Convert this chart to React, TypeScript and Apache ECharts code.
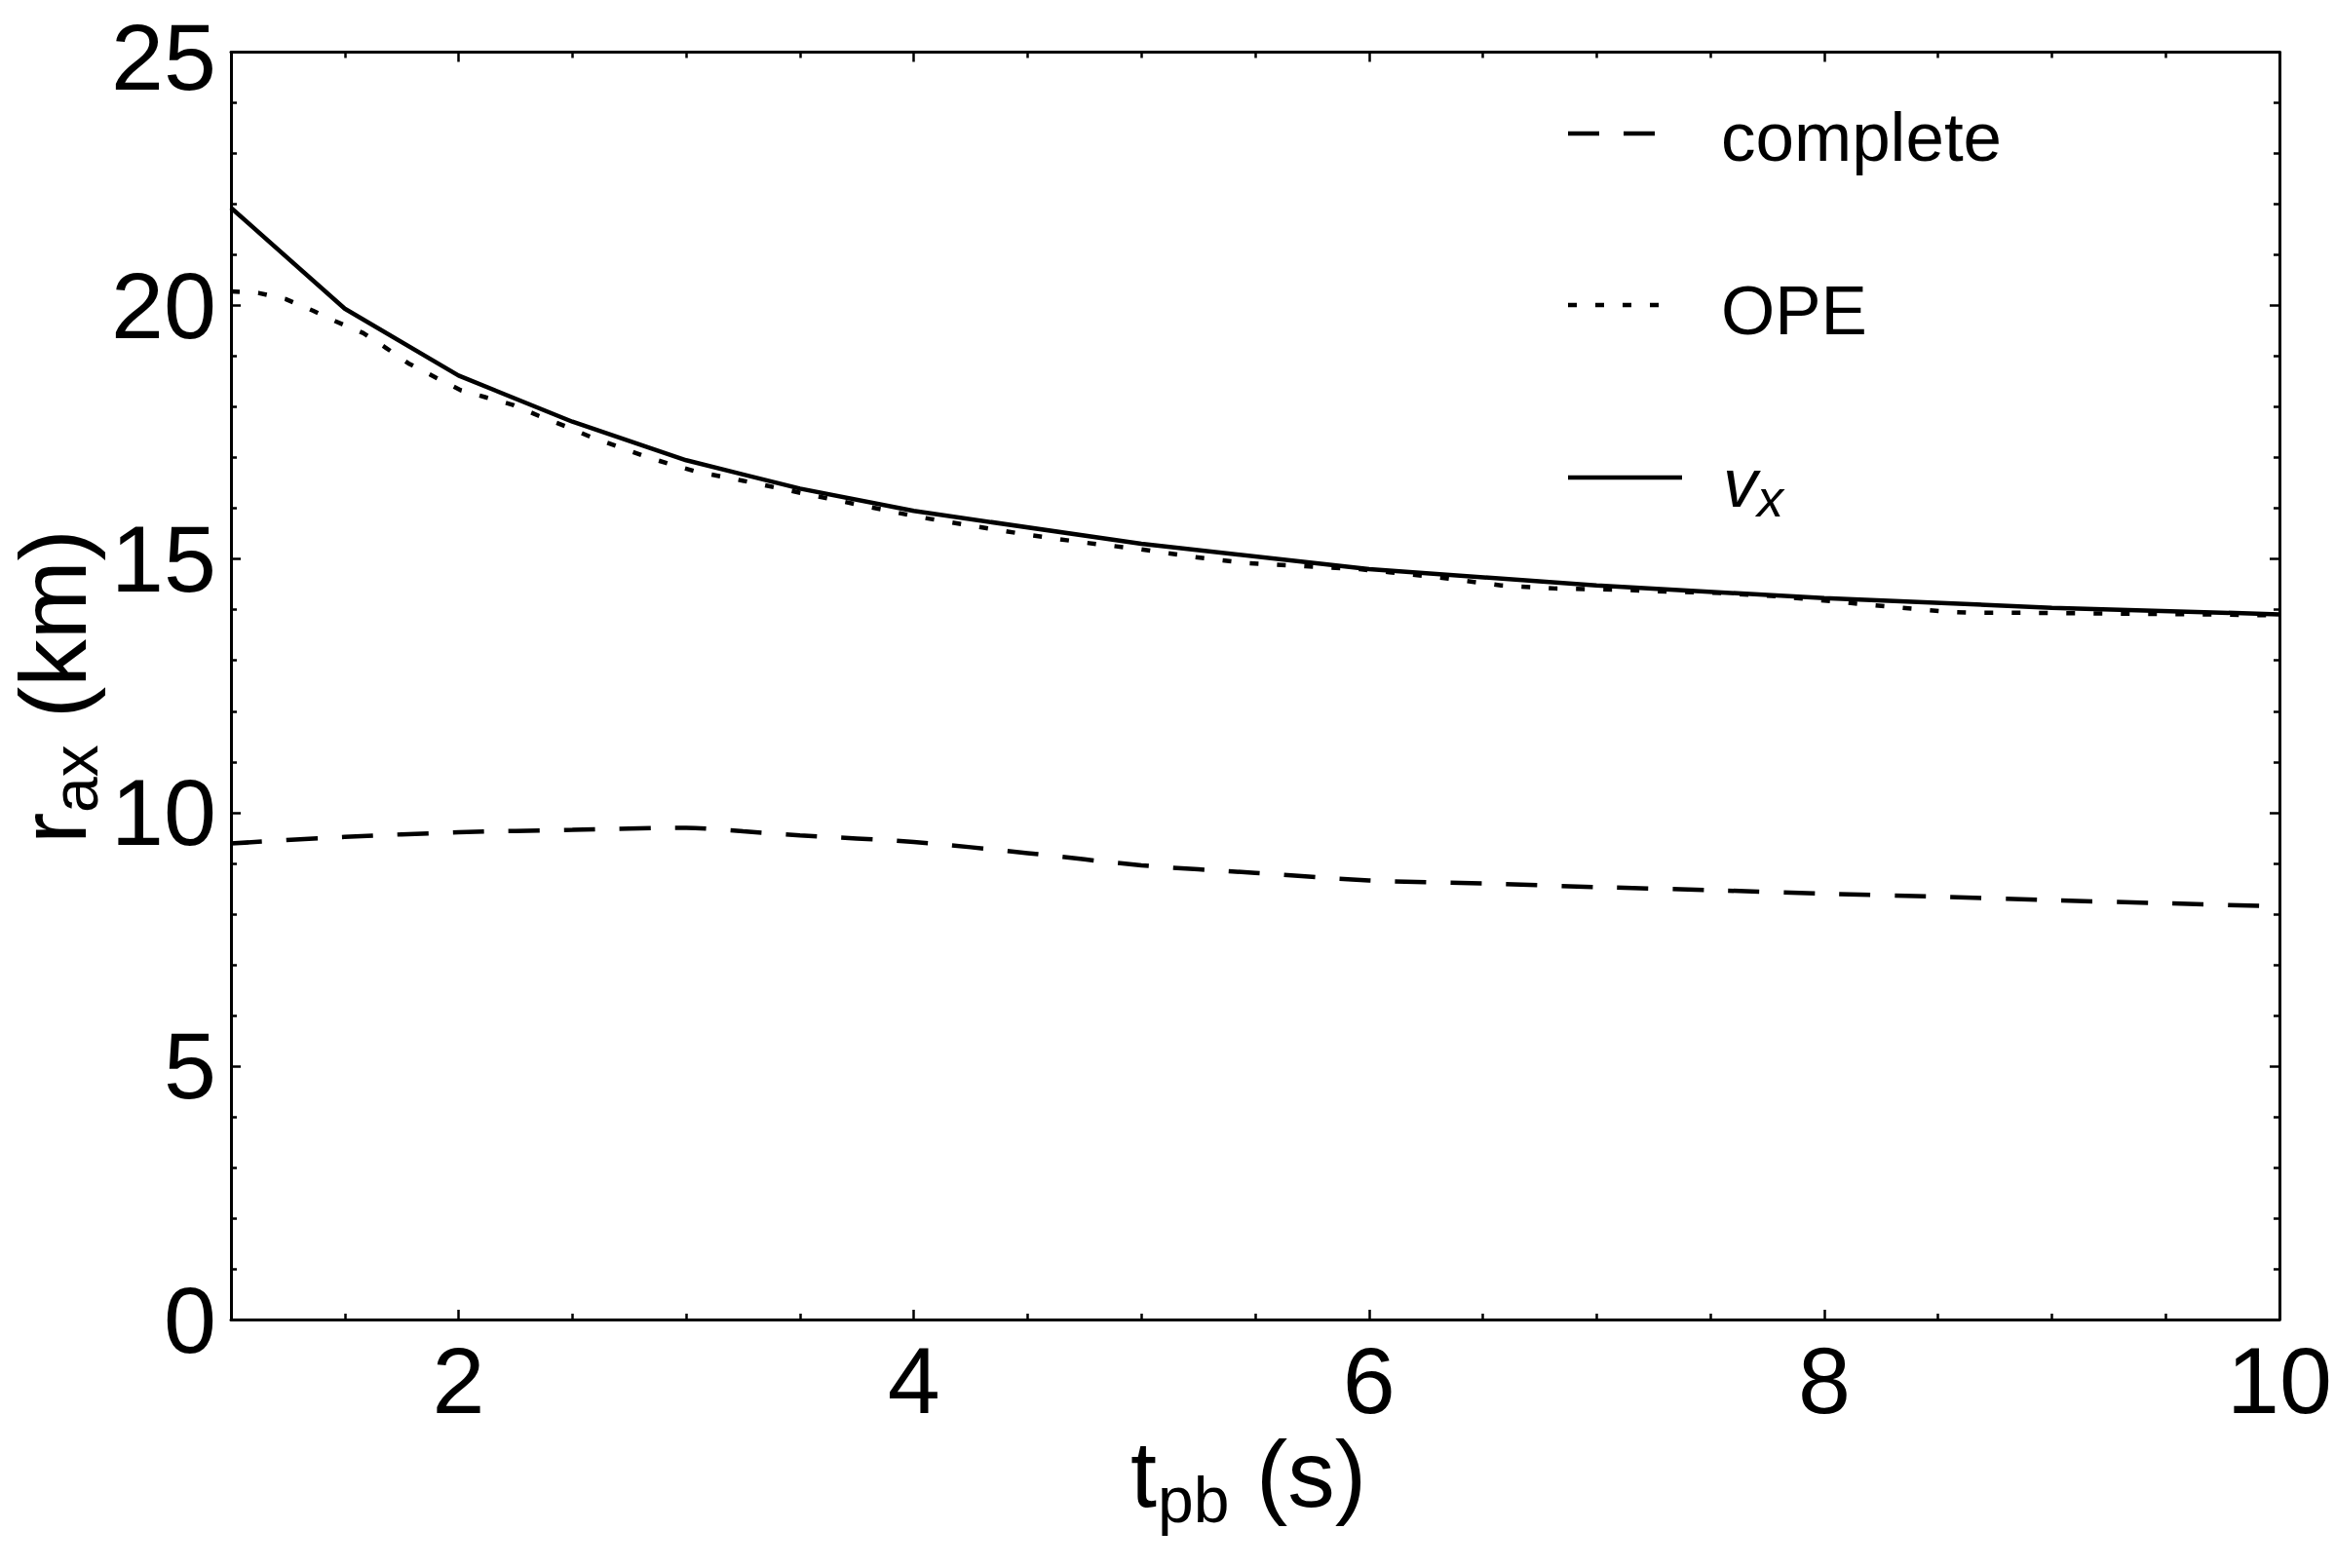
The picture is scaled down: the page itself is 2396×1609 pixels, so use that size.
import React, { useEffect, useRef } from "react";
import * as echarts from "echarts";

const FONT = "'Liberation Sans', Arial, Helvetica, sans-serif";

// post-bounce time t_pb (s) and r_ax (km) for the three treatments
const completeT = [1, 1.5, 2, 2.5, 3, 3.25, 3.5, 4, 4.5, 5, 5.5, 6, 6.5, 7, 7.5, 8, 8.5, 9, 9.5, 10];
const completeR = [9.39, 9.52, 9.61, 9.66, 9.7, 9.63, 9.55, 9.42, 9.2, 8.96, 8.81, 8.66, 8.6, 8.53, 8.47, 8.4, 8.34, 8.27, 8.21, 8.15];

const opeT = [
  1, 1.12, 1.24, 1.36, 1.46, 1.58, 1.68, 1.78, 1.9, 2.01, 2.12, 2.24, 2.35, 2.47, 2.58, 2.7, 2.81, 2.93,
  3.05, 3.29, 3.53, 3.77, 4.01, 4.25, 4.5, 4.74, 4.99, 5.23, 5.47, 5.72, 5.96, 6.09, 6.34, 6.58, 6.82,
  7.07, 7.31, 7.55, 7.81, 8.05, 8.29, 8.54, 8.66, 8.91, 9.16, 9.4, 9.65, 10,
];
const opeR = [
  20.28, 20.25, 20.13, 19.9, 19.69, 19.46, 19.17, 18.86, 18.58, 18.33, 18.19, 18.04, 17.83, 17.62, 17.41,
  17.22, 17.04, 16.87, 16.72, 16.51, 16.28, 16.06, 15.84, 15.66, 15.48, 15.33, 15.2, 15.04, 14.92, 14.86,
  14.8, 14.74, 14.62, 14.48, 14.42, 14.4, 14.36, 14.33, 14.26, 14.16, 14.06, 13.96, 13.94, 13.94, 13.93,
  13.92, 13.91, 13.89,
];

const vxT = [1, 1.5, 2, 2.5, 3, 3.5, 4, 5, 6, 7, 8, 9, 10];
const vxR = [21.93, 19.94, 18.62, 17.71, 16.95, 16.39, 15.95, 15.3, 14.8, 14.48, 14.23, 14.04, 13.91];

const xMajorTicks = [2, 4, 6, 8, 10];
const xMinorTicks = [1.5, 2.5, 3, 3.5, 4.5, 5, 5.5, 6.5, 7, 7.5, 8.5, 9, 9.5];
const yMax = 25;

const legendNames = ["complete", "OPE"];

const zip = (xs: number[], ys: number[]) => xs.map((x, i) => [x, ys[i]]);

// vertical position for a 'middle' aligned text whose alphabetic baseline is at b
const mid = (b: number, size: number) => b - 0.3465 * size;

const DASH = [32, 25];
const DOT = [9, 19];
const LW = 4.5;
const SUB = 66;

function makeXAxis(position: "top" | "bottom", major: boolean, showLine: boolean, showLabel: boolean) {
  return {
    type: "value",
    position,
    min: 1,
    max: 10,
    splitLine: { show: false },
    axisLine: { show: showLine, onZero: false, lineStyle: { color: "#000", width: 3 } },
    axisTick: {
      show: true,
      inside: true,
      length: major ? 10 : 6,
      customValues: major ? xMajorTicks : xMinorTicks,
      lineStyle: { color: "#000", width: 2.5 },
    },
    axisLabel: showLabel
      ? {
          show: true,
          customValues: xMajorTicks,
          fontFamily: FONT,
          fontSize: 97,
          lineHeight: 72,
          color: "#000",
          margin: 26,
        }
      : { show: false },
  };
}

function makeYAxis(position: "left" | "right", showLabel: boolean) {
  return {
    type: "value",
    position,
    min: 0,
    max: yMax,
    interval: 5,
    splitLine: { show: false },
    axisLine: { show: true, onZero: false, lineStyle: { color: "#000", width: 3 } },
    axisTick: { show: true, inside: true, length: 10, lineStyle: { color: "#000", width: 2.5 } },
    minorTick: { show: true, splitNumber: 5, length: 6, lineStyle: { color: "#000", width: 2.5 } },
    minorSplitLine: { show: false },
    axisLabel: showLabel
      ? {
          show: true,
          fontFamily: FONT,
          fontSize: 97,
          lineHeight: 72,
          color: "#000",
          margin: 15,
          // the top label sits a touch lower so it stays inside the canvas
          formatter: (v: number) => (v === yMax ? `{top|${v}}` : String(v)),
          rich: {
            top: { fontFamily: FONT, fontSize: 97, lineHeight: 72, color: "#000", padding: [10, 0, 0, 0] },
          },
        }
      : { show: false },
  };
}

export default function App() {
  const ref = useRef<HTMLDivElement>(null);

  useEffect(() => {
    if (!ref.current) return;
    const chart = echarts.init(ref.current, undefined, { renderer: "svg" });

    const black = "#000";
    const legendX0 = 1609;
    const textX = 1766;

    const graphic: any[] = [
      // x-axis title: t_pb (s)
      { type: "text", x: 1160, y: mid(1546, 97), style: { text: "t", font: `97px ${FONT}`, fill: black, verticalAlign: "middle" } },
      { type: "text", x: 1188, y: mid(1562, SUB), style: { text: "pb", font: `${SUB}px ${FONT}`, fill: black, verticalAlign: "middle" } },
      { type: "text", x: 1262, y: mid(1546, 97), style: { text: " (s)", font: `97px ${FONT}`, fill: black, verticalAlign: "middle" } },
      // y-axis title: r_ax (km), reading upward
      {
        type: "group",
        x: 88,
        y: 705,
        rotation: Math.PI / 2,
        children: [
          { type: "text", x: -161, y: mid(0, 97), style: { text: "r", font: `97px ${FONT}`, fill: black, verticalAlign: "middle" } },
          { type: "text", x: -129, y: mid(12, SUB), style: { text: "ax", font: `${SUB}px ${FONT}`, fill: black, verticalAlign: "middle" } },
          { type: "text", x: -59, y: mid(0, 97), style: { text: " (km)", font: `97px ${FONT}`, fill: black, verticalAlign: "middle" } },
        ],
      },
      // legend
      { type: "line", shape: { x1: legendX0, y1: 137, x2: 1699, y2: 137 }, style: { stroke: black, lineWidth: LW, lineDash: DASH } },
      { type: "text", x: textX, y: mid(165, 71), style: { text: legendNames[0], font: `71px ${FONT}`, fill: black, verticalAlign: "middle" } },
      { type: "line", shape: { x1: legendX0, y1: 313, x2: 1705, y2: 313 }, style: { stroke: black, lineWidth: LW, lineDash: DOT } },
      { type: "text", x: textX, y: mid(343, 71), style: { text: legendNames[1], font: `71px ${FONT}`, fill: black, verticalAlign: "middle" } },
      { type: "line", shape: { x1: legendX0, y1: 490, x2: 1726, y2: 490 }, style: { stroke: black, lineWidth: LW } },
      { type: "text", x: 1768, y: mid(520, 71), style: { text: "v", font: `italic 71px ${FONT}`, fill: black, verticalAlign: "middle" } },
      { type: "text", x: 1803, y: mid(530, 54), style: { text: "x", font: `italic 54px ${FONT}`, fill: black, verticalAlign: "middle" } },
    ];

    chart.setOption({
      animation: false,
      backgroundColor: "#fff",
      grid: { left: 237, right: 57, top: 50, bottom: 255, containLabel: false },
      xAxis: [
        makeXAxis("bottom", true, true, true),
        makeXAxis("bottom", false, false, false),
        makeXAxis("top", true, true, false),
        makeXAxis("top", false, false, false),
      ],
      yAxis: [makeYAxis("left", true), makeYAxis("right", false)],
      graphic,
      series: [
        {
          name: "complete",
          type: "line",
          data: zip(completeT, completeR),
          showSymbol: false,
          symbol: "none",
          smooth: 0.3,
          lineStyle: { color: black, width: LW, type: DASH },
        },
        {
          name: "OPE",
          type: "line",
          data: zip(opeT, opeR),
          showSymbol: false,
          symbol: "none",
          lineStyle: { color: black, width: LW, type: DOT },
        },
        {
          name: "vx",
          type: "line",
          data: zip(vxT, vxR),
          showSymbol: false,
          symbol: "none",
          lineStyle: { color: black, width: LW },
        },
      ],
    });

    return () => chart.dispose();
  }, []);

  return (
    <div
      ref={ref}
      style={{ position: "fixed", left: 0, top: 0, width: 2396, height: 1609, background: "#fff" }}
    />
  );
}
